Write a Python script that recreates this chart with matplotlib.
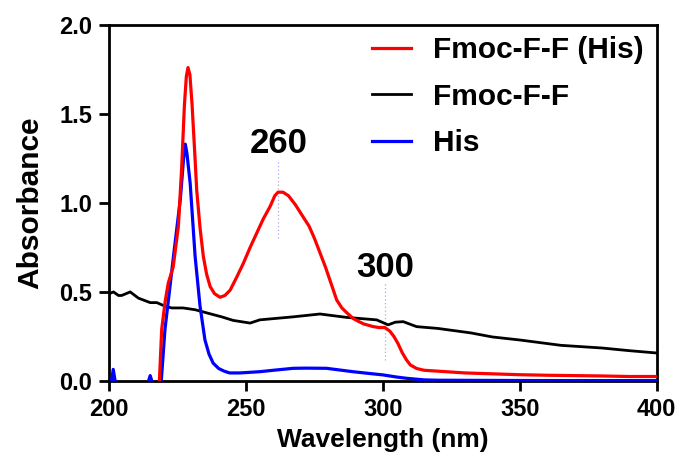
import matplotlib
matplotlib.use("Agg")
import matplotlib.pyplot as plt

plt.rcParams['font.family'] = ['Liberation Sans', 'DejaVu Sans']
plt.rcParams['font.weight'] = 'bold'

# ---------------- data ----------------
red_wl = [218.3, 219.2, 220.5, 221.6, 223.4, 225.3, 226.5, 227.5, 228.2, 228.8, 229.5, 230.3,
          231.2, 232.0, 233.2, 234.4, 235.6, 236.9, 238.5, 240.5, 242.3, 244.2, 246.5, 249.0,
          251.5, 253.9, 256.3, 258.8, 260.5, 261.7, 263.5, 265.5, 268.0, 270.9, 273.0, 275.0,
          277.0, 279.0, 281.0, 283.1, 285.0, 287.0, 289.2, 291.0, 293.0, 296.5, 298.5, 300.7,
          302.5, 304.0, 305.5, 307.0, 308.6, 310.0, 312.3, 315.0, 320.0, 330.0, 340.0, 350.0,
          360.0, 370.0, 380.0, 390.0, 400.0]
red_abs = [-0.02, 0.29, 0.45, 0.55, 0.64, 0.87, 1.20, 1.55, 1.71, 1.76, 1.72, 1.55,
           1.30, 1.07, 0.86, 0.70, 0.60, 0.53, 0.49, 0.47, 0.48, 0.51, 0.58, 0.66,
           0.75, 0.83, 0.91, 0.98, 1.04, 1.06, 1.06, 1.04, 0.99, 0.92, 0.87, 0.80,
           0.72, 0.64, 0.55, 0.455, 0.41, 0.38, 0.35, 0.335, 0.32, 0.305, 0.30, 0.30,
           0.28, 0.25, 0.21, 0.16, 0.118, 0.09, 0.07, 0.06, 0.055, 0.045, 0.04, 0.035,
           0.032, 0.03, 0.028, 0.025, 0.025]

blk_wl = [200.0, 201.6, 203.4, 204.6, 207.7, 210.7, 215.0, 217.4, 220.4, 222.8, 227.0, 231.4,
          236.2, 241.1, 245.3, 251.5, 255.0, 260.0, 267.2, 277.0, 286.7, 297.7, 301.9, 304.5,
          307.4, 312.3, 320.0, 332.0, 340.0, 350.0, 360.0, 365.0, 370.0, 380.0, 390.0, 400.0]
blk_abs = [0.49, 0.50, 0.48, 0.48, 0.50, 0.465, 0.44, 0.44, 0.42, 0.41, 0.41, 0.40,
           0.38, 0.36, 0.34, 0.325, 0.343, 0.35, 0.36, 0.376, 0.357, 0.343, 0.315, 0.33,
           0.333, 0.305, 0.295, 0.27, 0.247, 0.23, 0.21, 0.20, 0.195, 0.185, 0.17, 0.157]

blu_wl = [200.0, 200.8, 201.5, 202.3, 203.0, 214.0, 214.2, 215.0, 215.8, 216.0, 219.0, 220.4,
          222.0, 223.5, 226.0, 227.2, 227.8, 228.4, 229.6, 231.4, 233.2, 235.0, 236.5, 238.0,
          240.0, 242.0, 244.0, 247.8, 255.0, 260.0, 267.2, 272.0, 279.4, 289.0, 295.0, 300.0,
          305.0, 308.6, 315.0, 320.0, 340.0, 360.0, 380.0, 400.0]
blu_abs = [-0.05, -0.01, 0.065, -0.01, -0.05, -0.05, -0.01, 0.03, -0.01, -0.05, -0.01, 0.29,
           0.50, 0.70, 1.02, 1.25, 1.33, 1.28, 1.11, 0.70, 0.42, 0.23, 0.15, 0.10,
           0.07, 0.055, 0.045, 0.045, 0.052, 0.06, 0.071, 0.072, 0.071, 0.052, 0.042, 0.034,
           0.022, 0.015, 0.006, 0.004, 0.003, 0.002, 0.002, 0.002]

series_labels = ["Fmoc-F-F (His)", "Fmoc-F-F", "His"]
series_colors = ["#ff0000", "#000000", "#0000ff"]

peak_labels = ["260", "300"]
peak_wl = [261.8, 300.7]
peak_line_ranges = [(0.80, 1.24), (0.12, 0.55)]
peak_text_y = [1.24, 0.545]

xticks = [200, 250, 300, 350, 400]
yticks = [0.0, 0.5, 1.0, 1.5, 2.0]

# ---------------- figure ----------------
fam = ['Liberation Sans', 'DejaVu Sans']
fig = plt.figure(figsize=(6.82, 4.68), dpi=100)
ax = fig.add_axes([0.16, 0.186, 0.803, 0.761])

ax.plot(blk_wl, blk_abs, color=series_colors[1], lw=2.0, label=series_labels[1], zorder=3)
ax.plot(blu_wl, blu_abs, color=series_colors[2], lw=2.3, label=series_labels[2], zorder=4)
ax.plot(red_wl, red_abs, color=series_colors[0], lw=2.3, label=series_labels[0], zorder=5)

for lab, wl, (y0, y1), ty in zip(peak_labels, peak_wl, peak_line_ranges, peak_text_y):
    ax.plot([wl, wl], [y0, y1], color='#a8a8f0', lw=0.9, ls=(0, (1, 2)), zorder=2)
    ax.text(wl, ty, lab, ha='center', va='bottom', fontsize=25, fontweight='bold', family=fam)

ax.set_xlim(200, 400)
ax.set_ylim(0, 2.0)
ax.set_xticks(xticks)
ax.set_yticks(yticks)
ax.set_xticklabels([str(v) for v in xticks])
ax.set_yticklabels([f"{v:.1f}" for v in yticks])
for lbl in ax.get_xticklabels() + ax.get_yticklabels():
    lbl.set_fontfamily(fam)
    lbl.set_fontsize(17)
    lbl.set_fontweight('bold')

ax.tick_params(direction='out', length=7, width=2, pad=5)
for s in ax.spines.values():
    s.set_linewidth(2)

ax.set_xlabel("Wavelength (nm)", fontsize=19, fontweight='bold', family=fam, labelpad=5)
ax.set_ylabel("Absorbance", fontsize=21.5, fontweight='bold', family=fam, labelpad=11)

handles, labels = ax.get_legend_handles_labels()
order = [labels.index(l) for l in series_labels]
leg = ax.legend([handles[i] for i in order], [labels[i] for i in order],
                loc='upper left', bbox_to_anchor=(372 / 682, 1 - 36 / 468),
                bbox_transform=fig.transFigure, frameon=False, borderpad=0,
                borderaxespad=0, handlelength=1.3, handletextpad=0.75,
                labelspacing=0.62, prop={'family': fam, 'weight': 'bold', 'size': 21.5})

fig.savefig("out.png", dpi=100)
